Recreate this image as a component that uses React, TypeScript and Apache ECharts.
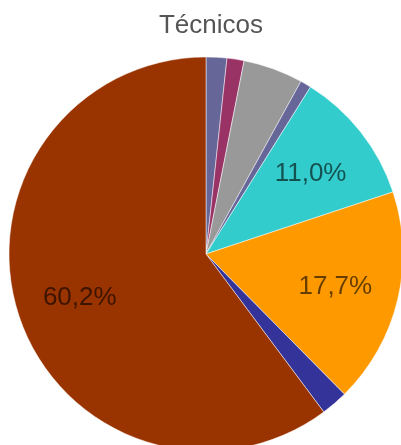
import React, { useEffect, useRef } from "react";
import * as echarts from "echarts";

const titleText = "Técnicos";
const categories = ["A", "B", "C", "D", "E", "F", "G", "H"];
const values = [1.7, 1.4, 4.9, 0.9, 11.0, 17.7, 2.2, 60.2];
const colors = ["#666699", "#993366", "#999999", "#666699", "#33cccc", "#ff9900", "#333399", "#993300"];

export default function App() {
  const ref = useRef<HTMLDivElement>(null);
  useEffect(() => {
    if (!ref.current) return;
    const chart = echarts.init(ref.current, undefined, { renderer: "svg" });
    const data = categories.map((c, i) => ({ name: c, value: values[i], itemStyle: { color: colors[i] } }));
    const labelData = categories.map((c, i) => ({ name: c, value: values[i] }));
    chart.setOption({
      animation: false,
      title: {
        text: titleText,
        left: 206,
        textAlign: "center",
        top: 6,
        textStyle: { fontFamily: "Liberation Sans, Arial, sans-serif", fontSize: 26, fontWeight: "normal", color: "#555555" },
      },
      series: [
        {
          type: "pie",
          center: [206, 254],
          radius: [0, 197],
          startAngle: 90,
          clockwise: true,
          data,
          label: { show: false },
          labelLine: { show: false },
          itemStyle: { borderColor: "rgba(255,255,255,0.7)", borderWidth: 0.7 },
          emphasis: { disabled: true },
          silent: true,
        },
        {
          type: "pie",
          center: [206, 254],
          radius: [64, 196],
          startAngle: 90,
          clockwise: true,
          data: labelData,
          itemStyle: { color: "rgba(0,0,0,0)" },
          labelLine: { show: false },
          label: {
            show: true,
            position: "inside",
            fontFamily: "Liberation Sans, Arial, sans-serif",
            fontSize: 26,
            color: "rgba(0,0,0,0.6)",
            formatter: (p: any) => (p.percent >= 10 ? p.value.toFixed(1).replace(".", ",") + "%" : ""),
          },
          emphasis: { disabled: true },
          silent: true,
        },
      ],
    });
    return () => chart.dispose();
  }, []);
  return <div ref={ref} style={{ position: "fixed", left: 0, top: 0, width: 401, height: 445 }} />;
}
